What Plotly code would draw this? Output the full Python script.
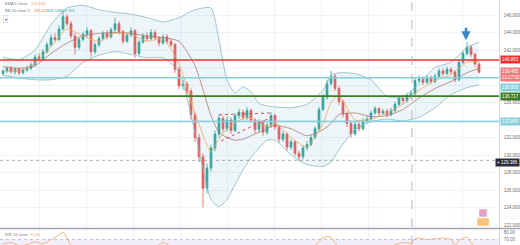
import plotly.graph_objects as go

# ---------------- data ----------------
opens = [139.3, 139.6, 139.9, 139.5, 139.8, 139.4, 139.7, 139.9, 140.3, 141.2,
         141.0, 141.8, 142.6, 143.4, 143.2, 144.4, 145.8, 145.0, 143.6, 142.3,
         143.2, 143.8, 144.2, 141.8, 142.6, 143.3, 143.9, 143.5, 144.3, 145.0,
         144.1, 143.0, 143.7, 144.2, 141.6, 142.9, 143.6, 143.3, 144.0, 143.4,
         142.8, 143.5, 143.0, 142.6, 139.8, 137.9, 138.1, 137.3, 134.6, 132.0,
         129.8, 126.2, 128.5, 130.8, 132.4, 134.2, 133.0, 134.0, 132.8, 134.5,
         134.9, 134.3, 135.1, 134.0, 132.9, 133.8, 132.6, 133.4, 134.5, 133.2,
         131.8, 132.4, 130.9, 131.5, 130.2, 129.8, 130.8, 131.2, 132.0, 133.0,
         135.2, 136.6, 138.2, 139.0, 137.6, 136.1, 134.7, 133.6, 132.4, 133.5,
         133.0, 133.9, 134.1, 134.8, 135.3, 134.8, 135.0, 134.6, 135.1, 135.8,
         136.5, 136.2, 136.8, 137.0, 138.5, 138.7, 138.3, 138.8, 138.4, 139.0,
         139.6, 139.3, 139.8, 139.5, 138.6, 140.6, 141.6, 142.3, 141.5, 140.4]
highs = [139.8, 140.1, 140.2, 140.0, 140.0, 139.9, 140.2, 140.6, 141.5, 141.6,
         142.1, 142.9, 143.8, 143.9, 144.8, 146.5, 146.1, 145.3, 143.9, 143.5,
         144.1, 144.6, 144.4, 142.9, 143.6, 144.2, 144.3, 144.6, 145.7, 145.3,
         144.3, 144.0, 144.6, 144.4, 143.2, 143.9, 144.0, 144.4, 144.3, 143.6,
         143.8, 143.8, 143.3, 142.8, 140.1, 138.6, 138.4, 137.6, 134.9, 132.4,
         130.2, 129.0, 131.2, 132.8, 134.6, 134.5, 134.4, 134.3, 134.8, 135.3,
         135.2, 135.5, 135.3, 134.2, 134.1, 134.0, 133.7, 134.9, 134.7, 133.4,
         132.7, 132.6, 131.8, 131.7, 130.5, 131.1, 131.6, 132.3, 133.3, 135.5,
         137.0, 138.6, 139.6, 139.3, 137.9, 136.3, 135.0, 133.9, 133.8, 133.9,
         134.2, 134.5, 135.1, 135.6, 135.5, 135.3, 135.3, 135.4, 136.1, 136.8,
         136.9, 137.1, 137.4, 138.8, 139.1, 139.0, 139.1, 139.1, 139.3, 139.9,
         139.9, 140.1, 140.0, 139.7, 140.9, 141.9, 142.9, 142.6, 141.7, 140.6]
lows = [139.1, 139.4, 139.3, 139.2, 139.1, 139.2, 139.5, 139.7, 140.1, 140.7,
        140.8, 141.6, 142.4, 142.9, 143.0, 144.2, 144.7, 143.3, 141.5, 142.0,
        143.0, 143.5, 141.2, 141.5, 142.3, 143.1, 143.2, 143.3, 144.0, 143.8,
        142.7, 142.8, 143.5, 141.1, 141.4, 142.7, 143.0, 143.1, 143.1, 142.4,
        142.6, 142.7, 142.3, 139.4, 137.5, 137.4, 136.9, 134.0, 131.5, 129.2,
        124.0, 125.6, 128.1, 130.4, 132.0, 132.6, 132.7, 132.4, 132.6, 134.1,
        134.0, 134.0, 133.7, 132.5, 132.6, 132.2, 132.3, 133.1, 132.9, 131.4,
        131.5, 130.5, 130.6, 129.9, 129.3, 129.5, 130.5, 131.0, 131.8, 132.8,
        135.0, 136.3, 137.9, 137.3, 135.7, 134.3, 133.2, 132.0, 132.2, 132.7,
        132.8, 133.6, 133.9, 134.6, 134.5, 134.6, 134.3, 134.4, 134.9, 135.6,
        135.9, 136.0, 136.5, 136.8, 138.2, 138.0, 138.1, 138.1, 138.2, 138.8,
        139.0, 139.1, 139.2, 138.3, 138.4, 140.4, 141.4, 141.2, 140.1, 139.3]
closes = [139.6, 139.9, 139.5, 139.8, 139.4, 139.7, 139.9, 140.3, 141.2, 141.0,
          141.8, 142.6, 143.4, 143.2, 144.4, 145.8, 145.0, 143.6, 142.3, 143.2,
          143.8, 144.2, 141.8, 142.6, 143.3, 143.9, 143.5, 144.3, 145.0, 144.1,
          143.0, 143.7, 144.2, 141.6, 142.9, 143.6, 143.3, 144.0, 143.4, 142.8,
          143.5, 143.0, 142.6, 139.8, 137.9, 138.1, 137.3, 134.6, 132.0, 129.8,
          126.2, 128.5, 130.8, 132.4, 134.2, 133.0, 134.0, 132.8, 134.5, 134.9,
          134.3, 135.1, 134.0, 132.9, 133.8, 132.6, 133.4, 134.5, 133.2, 131.8,
          132.4, 130.9, 131.5, 130.2, 129.8, 130.8, 131.2, 132.0, 133.0, 135.2,
          136.6, 138.2, 139.0, 137.6, 136.1, 134.7, 133.6, 132.4, 133.5, 133.0,
          133.9, 134.1, 134.8, 135.3, 134.8, 135.0, 134.6, 135.1, 135.8, 136.5,
          136.2, 136.8, 137.0, 138.5, 138.7, 138.3, 138.8, 138.4, 139.0, 139.6,
          139.3, 139.8, 139.5, 138.6, 140.6, 141.6, 142.3, 141.5, 140.4, 139.47]

bb_idx = [0, 4, 8, 12, 16, 20, 24, 28, 32, 36, 40, 44, 48, 52, 54, 56, 58, 60,
          62, 64, 66, 68, 72, 76, 80, 82, 84, 88, 92, 96, 100, 104, 108, 112, 116, 119]
bb_upper = [141.2, 140.9, 142.0, 144.9, 146.8, 147.1, 146.6, 146.3, 146.1, 145.7,
            145.2, 145.7, 146.6, 146.8, 143.1, 138.6, 137.1, 137.8, 137.2, 135.9,
            135.6, 135.5, 135.4, 135.8, 137.4, 139.1, 139.4, 139.3, 138.6, 136.7,
            136.6, 138.2, 140.0, 140.6, 142.3, 142.9]
bb_lower = [139.1, 138.8, 138.6, 138.6, 139.0, 140.6, 141.4, 141.8, 141.5, 141.1,
            141.1, 139.5, 132.6, 124.9, 124.1, 124.9, 126.6, 128.3, 129.7, 130.8,
            131.7, 131.7, 130.0, 128.9, 128.7, 129.2, 130.6, 132.9, 133.8, 134.1,
            133.9, 134.3, 135.4, 136.9, 137.7, 138.0]
bb_basis = [140.1, 139.9, 140.2, 141.6, 142.8, 143.6, 143.9, 144.0, 143.9, 143.6,
            143.4, 143.0, 140.2, 134.5, 132.6, 132.0, 131.7, 131.8, 132.2, 132.6,
            133.0, 133.4, 133.0, 132.2, 132.9, 133.6, 134.6, 134.8, 134.4, 134.5,
            135.2, 136.5, 137.6, 138.4, 139.4, 139.9]
ema_fast = [139.6, 139.6, 140.5, 142.4, 144.4, 143.6, 143.0, 143.9, 143.8, 143.0,
            143.3, 140.4, 134.8, 130.4, 131.8, 133.0, 133.6, 134.2, 134.2, 133.6,
            133.3, 133.6, 132.0, 130.9, 133.6, 136.0, 136.8, 134.0, 134.1, 134.8,
            135.8, 137.4, 138.5, 139.2, 140.6, 140.7]

rsi_idx = [0, 2, 4, 6, 8, 10, 12, 14, 15, 16, 17, 18, 20, 30, 38, 40, 42, 44, 60,
           76, 78, 80, 81, 82, 83, 84, 86, 96, 98, 100, 102, 103, 104, 106, 108,
           110, 112, 113, 114, 115, 116, 117, 118, 119]
rsi_vals = [64, 66, 62, 63, 67, 64, 70, 76, 80, 72, 62, 56, 60, 58, 60, 66, 60, 40, 48,
            55, 62, 72, 74, 73, 66, 58, 50, 58, 63, 66, 65, 71, 72, 70, 71,
            72, 70, 62, 69, 72, 73, 66, 59, 55]

level_red = 140.863
level_teal_hi = 138.830
level_green = 136.717
level_teal_lo = 133.840
crosshair_price = 129.386
crosshair_bar = 102.25
last_price = 139.465
countdown = "13:17:50"
arrow_bar = 115.75
arrow_price = 143.1

# dotted red trend drawings: (bar0, price0, bar1, price1)
drawings = [(54, 134.6, 67, 134.8), (54.5, 131.6, 67, 134.3)]

price_ticks = [122, 124, 126, 128, 130, 132, 134, 136, 138, 140, 142, 144, 146]
hidden_ticks = [134, 138, 140]     # covered by level labels in the reference
grid_bars = [9, 20.75, 32.5, 44.25, 56, 67.75, 79.5, 91.25, 103, 114.75]

legend_ema = ("EMA 9 close", "135.636")
legend_bb = ("BB 20 close 2", "135.124", "136.546", "133.703")
legend_rsi = ("RSI 14 close", "55.40")

# ---------------- figure ----------------
W, H = 520, 245
XR = 499 / W           # right edge of the plotting panes
MAIN_LO = 17 / H       # bottom of price pane
RSI_HI = 16 / H

UP, DN = "#26A69A", "#EF5350"
BAND = "#86B9C2"
FONT = "Arial, Liberation Sans, sans-serif"

bars = list(range(len(closes)))
fig = go.Figure()

fig.add_trace(go.Scatter(x=bb_idx, y=bb_upper, mode="lines",
                         line=dict(color=BAND, width=0.8, shape="spline", smoothing=0.6),
                         hoverinfo="skip", showlegend=False))
fig.add_trace(go.Scatter(x=bb_idx, y=bb_lower, mode="lines", fill="tonexty",
                         fillcolor="rgba(110,175,200,0.12)",
                         line=dict(color=BAND, width=0.8, shape="spline", smoothing=0.6),
                         hoverinfo="skip", showlegend=False))
fig.add_trace(go.Candlestick(x=bars, open=opens, high=highs, low=lows, close=closes,
                             increasing=dict(line=dict(color=UP, width=0.8), fillcolor=UP),
                             decreasing=dict(line=dict(color=DN, width=0.8), fillcolor=DN),
                             whiskerwidth=0, showlegend=False, hoverinfo="skip"))
fig.add_trace(go.Scatter(x=bb_idx, y=bb_basis, mode="lines",
                         line=dict(color="#A9786F", width=0.8, shape="spline", smoothing=0.6),
                         hoverinfo="skip", showlegend=False))
fig.add_trace(go.Scatter(x=bb_idx, y=ema_fast, mode="lines",
                         line=dict(color="#F5A65B", width=0.8, shape="spline", smoothing=0.6),
                         hoverinfo="skip", showlegend=False))

fig.add_trace(go.Scatter(x=rsi_idx, y=rsi_vals, mode="lines", xaxis="x2", yaxis="y2",
                         line=dict(color="#F2A65E", width=0.8, shape="spline", smoothing=0.5),
                         hoverinfo="skip", showlegend=False))

shapes = []
for val, col, wd in [(level_red, "#E8322E", 1.6), (level_teal_hi, "#86D0DC", 1.5),
                     (level_green, "#3B7E23", 1.8), (level_teal_lo, "#86D0DC", 1.5)]:
    shapes.append(dict(type="line", xref="x domain", x0=0, x1=1, yref="y", y0=val, y1=val,
                       line=dict(color=col, width=wd)))
shapes.append(dict(type="line", xref="x domain", x0=0, x1=1, yref="y",
                   y0=crosshair_price, y1=crosshair_price,
                   line=dict(color="#9598A1", width=0.8, dash="dot")))
shapes.append(dict(type="line", xref="x", x0=crosshair_bar, x1=crosshair_bar, yref="paper",
                   y0=0, y1=1, line=dict(color="#A3A6AF", width=0.8, dash="dash")))
for b0, p0, b1, p1 in drawings:
    shapes.append(dict(type="line", xref="x", yref="y", x0=b0, y0=p0, x1=b1, y1=p1,
                       line=dict(color="#E8463F", width=1, dash="dot")))
shapes.append(dict(type="rect", xref="x2 domain", x0=0, x1=1, yref="y2", y0=30, y1=70,
                   fillcolor="rgba(126,87,194,0.10)", line=dict(width=0), layer="below"))
shapes.append(dict(type="line", xref="x2 domain", x0=0, x1=1, yref="y2", y0=70, y1=70,
                   line=dict(color="#B9AEDB", width=0.8, dash="dot")))
shapes.append(dict(type="line", xref="paper", x0=0, x1=1, yref="paper",
                   y0=MAIN_LO - 0.5 / H, y1=MAIN_LO - 0.5 / H,
                   line=dict(color="#A3A6AF", width=1.5)))

# economic-event badges near the bottom right of the price pane
for (bx0, by0, bx1, by1, col) in [(479, 209, 487, 217, "#E6A1C8"),
                                  (477, 218, 489, 226, "#F6C27A")]:
    shapes.append(dict(type="rect", xref="paper", yref="paper",
                       x0=bx0 / W, x1=bx1 / W, y0=1 - by1 / H, y1=1 - by0 / H,
                       fillcolor=col, line=dict(color="white", width=0.5)))

ann = []
small = dict(family=FONT, size=4.5)


def price_label(val, text, bg, fg="white", yshift=0, anchor="middle"):
    ann.append(dict(xref="paper", x=XR + 1 / W, xanchor="left", yref="y", y=val,
                    yanchor=anchor, yshift=yshift, text=text, showarrow=False,
                    bgcolor=bg, borderpad=1, font=dict(small, color=fg), align="left"))


price_label(level_red, f"{level_red:.3f}", "#E8322E")
price_label(last_price, f"{last_price:.3f}<br>{countdown}", "#F47A7E", anchor="top", yshift=5)
price_label(level_teal_hi, f"{level_teal_hi:.3f}", "#86D0DC", yshift=-10)
price_label(level_green, f"{level_green:.3f}", "#3B7E23")
price_label(level_teal_lo, f"{level_teal_lo:.3f}", "#86D0DC")
ann.append(dict(xref="paper", x=1, xanchor="right", yref="y", y=crosshair_price,
                yshift=-2, text=f"+ {crosshair_price:.3f}", showarrow=False,
                bgcolor="#2A2E39", borderpad=1, font=dict(small, color="white")))

ann.append(dict(xref="x", yref="y", x=arrow_bar, y=arrow_price, ax=0, ay=-14,
                text="", showarrow=True, arrowhead=2, arrowsize=0.7, arrowwidth=2.6,
                arrowcolor="#3C84C8"))


def txt(px, py, text, color, size=4.0):
    ann.append(dict(xref="paper", yref="paper", x=px / W, y=1 - py / H, xanchor="left",
                    yanchor="middle", text=text, showarrow=False,
                    font=dict(family=FONT, size=size, color=color)))


txt(3, 3.5, legend_ema[0], "#787B86")
txt(29, 3.5, legend_ema[1], "#F5A65B")
txt(3, 10.5, legend_bb[0], "#787B86")
txt(32, 10.5, legend_bb[1], "#E8644A")
txt(45, 10.5, legend_bb[2], "#3FA4B5")
txt(58, 10.5, legend_bb[3], "#3FA4B5")
ann.append(dict(xref="paper", yref="paper", x=3 / W, y=1 - 19 / H, xanchor="left",
                yanchor="middle", text="▾", showarrow=False, bordercolor="#D1D4DC",
                borderwidth=0.6, borderpad=1, bgcolor="white",
                font=dict(family=FONT, size=4, color="#555")))
txt(3, 234, legend_rsi[0], "#787B86")
txt(28, 234, legend_rsi[1], "#F2A65E")

axis_font = dict(family=FONT, size=4.5, color="#6A6D78")
tick_text = ["" if t in hidden_ticks else f"{t:.3f}" for t in price_ticks]
fig.update_layout(
    width=W, height=H, margin=dict(l=0, r=0, t=0, b=0),
    paper_bgcolor="white", plot_bgcolor="white", hovermode=False,
    boxgap=0.35,
    xaxis=dict(domain=[0, XR], range=[-0.75, 124], anchor="y", showticklabels=False,
               tickvals=grid_bars, ticks="", showgrid=True, gridcolor="#F0F3FA",
               gridwidth=0.8, zeroline=False, rangeslider=dict(visible=False),
               showline=False, fixedrange=True),
    yaxis=dict(domain=[MAIN_LO, 1], range=[121.657, 147.714], side="right", anchor="x",
               tickvals=price_ticks, ticktext=tick_text, tickfont=axis_font, ticks="",
               showgrid=True, gridcolor="#F0F3FA", gridwidth=0.8, zeroline=False,
               showline=True, linecolor="#D6D8DE", linewidth=0.8, ticklabelstandoff=3),
    xaxis2=dict(domain=[0, XR], matches="x", anchor="y2", showticklabels=False,
                tickvals=grid_bars, ticks="", showgrid=True, gridcolor="#F0F3FA",
                zeroline=False),
    yaxis2=dict(domain=[0, RSI_HI], range=[62.7, 84], side="right", anchor="x2",
                tickvals=[80, 70], tickformat=".2f", tickfont=axis_font, ticks="",
                showgrid=False, zeroline=False, showline=True, linecolor="#D6D8DE",
                linewidth=0.8, ticklabelstandoff=3),
    shapes=shapes, annotations=ann,
)

fig.write_html("out.html")
